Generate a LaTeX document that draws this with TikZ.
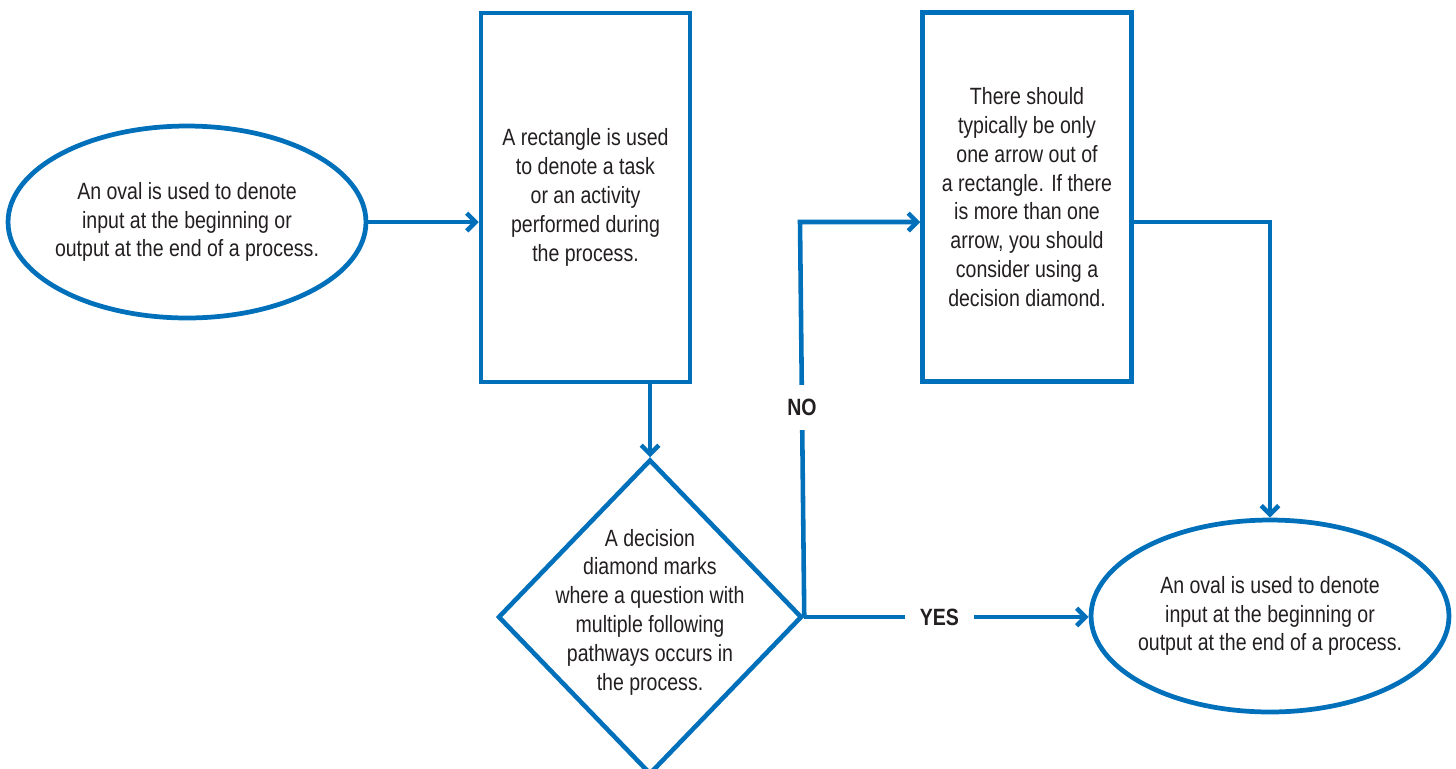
\documentclass[tikz,border=0pt]{standalone}
\usepackage{fontspec}
\setmainfont{Liberation Sans}[FakeStretch=0.83]
\usetikzlibrary{shapes.geometric,arrows.meta}
\definecolor{flowblue}{RGB}{0,112,186}
\definecolor{inkgrey}{RGB}{35,31,32}

\begin{document}
\begin{tikzpicture}[x=0.02cm,y=-0.02cm,
    every node/.style={text=inkgrey,font=\fontsize{13.4}{16.4}\selectfont},
    oval/.style={draw=flowblue,line width=2.7pt,ellipse,inner sep=0pt,
      minimum width=7.16cm,minimum height=3.84cm},
    box/.style={draw=flowblue,line width=2.6pt,rectangle,align=center,
      minimum width=4.18cm,minimum height=7.38cm},
    decision/.style={draw=flowblue,line width=2.6pt,diamond,inner sep=0pt,
      minimum width=6.08cm,minimum height=6.3cm},
    words/.style={align=center},
    answer/.style={font=\bfseries\fontsize{13.4}{16.4}\selectfont,fill=white},
    flow/.style={draw=flowblue,line width=2.6pt,-{Straight Barb[length=5pt,width=10pt]}}]
  \useasboundingbox (0,0) rectangle (1456,768);

  % shapes
  \node (start) at (187,222) [oval] {};
  \node (starttxt) at (start) [words] {An oval is used to denote\\input at the beginning or\\output at the end of a process.};
  \node (task) at (585.5,197.5) [box] {A rectangle is used\\to denote a task\\or an activity\\performed during\\the process.};
  \node (choice) at (650,617) [decision] {};
  \node (choicetxt) at (650,612) [words] {A decision\\diamond marks\\where a question with\\multiple following\\pathways occurs in\\the process.};
  \node (review) at (1027,197) [box] {There should\\typically be only\\one arrow out of\\a rectangle. If there\\is more than one\\arrow, you should\\consider using a\\decision diamond.};
  \node (finish) at (1270,616) [oval] {};
  \node (finishtxt) at (finish) [words] {An oval is used to denote\\input at the beginning or\\output at the end of a process.};
  \coordinate (nobend) at (800,222);

  % arrows
  \draw[flow] (start.east) to (start.east -| task.west);
  \draw[flow] (task.south -| choice.north) to (choice.north);
  \draw[flow] (choice.east) -- node[answer,pos=0.53,inner xsep=1pt,inner ysep=0.28cm] {NO} (nobend) -- (nobend -| review.west);
  \draw[flow] (choice.east) -- node[answer,pos=0.475,inner xsep=0.3cm,inner ysep=1pt] {YES} (choice.east -| finish.west);
  \draw[flow] (review.east |- nobend) -| (finish.north);
\end{tikzpicture}
\end{document}
